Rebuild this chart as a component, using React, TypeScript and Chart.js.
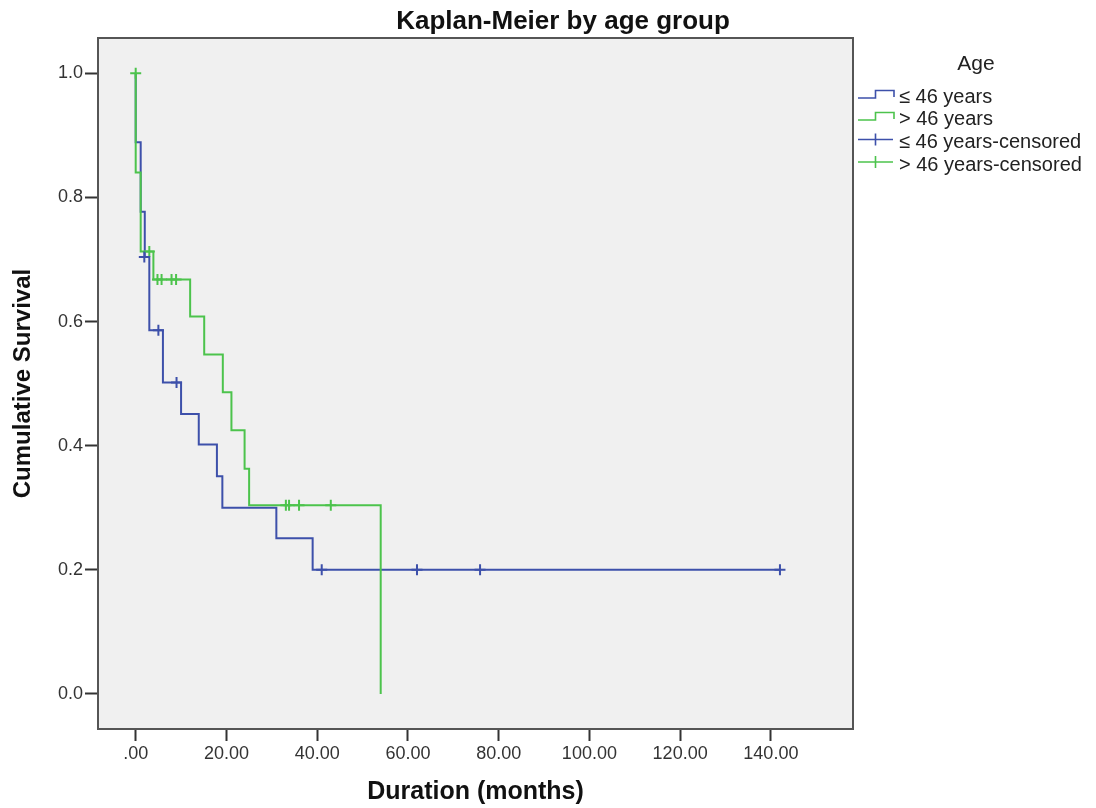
import React, { useEffect, useRef } from 'react';
import { Chart, registerables } from 'chart.js';

Chart.register(...registerables);

// ---- Text ----
const chartTitle = 'Kaplan-Meier by age group';
const xAxisTitle = 'Duration (months)';
const yAxisTitle = 'Cumulative Survival';
const legendTitle = 'Age';
const seriesLabels = ['≤ 46 years', '> 46 years', '≤ 46 years-censored', '> 46 years-censored'];

// ---- Ticks ----
const xTickValues = [0, 20, 40, 60, 80, 100, 120, 140];
const yTickValues = [0, 0.2, 0.4, 0.6, 0.8, 1.0];

// ---- ≤ 46 years: survival steps (time when survival becomes the value) ----
const youngTimes = [0, 0, 1.1, 2.0, 3.0, 6.0, 10.0, 13.9, 17.9, 19.1, 31.0, 39.0, 142.0];
const youngSurvival = [1.0, 0.889, 0.777, 0.704, 0.586, 0.502, 0.451, 0.402, 0.351, 0.300, 0.251, 0.200, 0.200];
const youngCensorTimes = [1.9, 5.0, 9.0, 41.0, 62.0, 75.9, 142.0];
const youngCensorSurvival = [0.704, 0.586, 0.502, 0.200, 0.200, 0.200, 0.200];

// ---- > 46 years ----
const oldTimes = [0, 0, 1.1, 3.9, 12.0, 15.1, 19.2, 21.1, 24.0, 25.0, 54.0];
const oldSurvival = [1.0, 0.840, 0.713, 0.668, 0.608, 0.547, 0.486, 0.425, 0.363, 0.304, 0.0];
const oldCensorTimes = [0, 3.0, 4.8, 5.7, 7.9, 8.9, 33.1, 33.8, 36.0, 43.0];
const oldCensorSurvival = [1.0, 0.713, 0.668, 0.668, 0.668, 0.668, 0.304, 0.304, 0.304, 0.304];

const BLUE = '#3d50aa';
const GREEN = '#4cc34c';
const seriesColors = [BLUE, GREEN, BLUE, GREEN];
const FONT = "'Liberation Sans', Arial, sans-serif";

const toPoints = (xs: number[], ys: number[]) => xs.map((x, i) => ({ x, y: ys[i] }));

const decorPlugin = {
  id: 'decor',
  beforeDraw(chart: any) {
    const { ctx, chartArea: a } = chart;
    ctx.save();
    ctx.fillStyle = '#ffffff';
    ctx.fillRect(0, 0, chart.width, chart.height);
    ctx.fillStyle = '#f0f0f0';
    ctx.fillRect(a.left, a.top, a.right - a.left, a.bottom - a.top);
    ctx.restore();
  },
  afterDraw(chart: any) {
    const { ctx, chartArea: a } = chart;
    ctx.save();
    // plot border
    ctx.strokeStyle = '#555555';
    ctx.lineWidth = 2;
    ctx.strokeRect(a.left, a.top, a.right - a.left, a.bottom - a.top);

    // title
    ctx.fillStyle = '#111111';
    ctx.font = `bold 26px ${FONT}`;
    ctx.textAlign = 'center';
    ctx.textBaseline = 'alphabetic';
    ctx.fillText(chartTitle, 563, 28.5);

    // legend
    ctx.font = `21px ${FONT}`;
    ctx.fillStyle = '#222222';
    ctx.fillText(legendTitle, 976, 70);

    const baselines = [103, 125, 148, 170.5];
    ctx.textAlign = 'left';
    ctx.font = `20px ${FONT}`;
    seriesLabels.forEach((label, i) => {
      const b = baselines[i];
      ctx.strokeStyle = seriesColors[i];
      ctx.lineWidth = 1.6;
      ctx.beginPath();
      if (i < 2) {
        const low = b - 5;
        const high = b - 12.5;
        ctx.moveTo(858, low);
        ctx.lineTo(875.5, low);
        ctx.lineTo(875.5, high);
        ctx.lineTo(894, high);
        ctx.lineTo(894, low - 1);
      } else {
        const c = b - 8.5;
        ctx.moveTo(858, c);
        ctx.lineTo(893, c);
        ctx.moveTo(875.5, c - 6);
        ctx.lineTo(875.5, c + 6);
      }
      ctx.stroke();
      ctx.fillStyle = '#222222';
      ctx.fillText(label, 899, b);
    });
    ctx.restore();
  },
};

export default function App() {
  const canvasRef = useRef<HTMLCanvasElement | null>(null);

  useEffect(() => {
    document.body.style.margin = '0';
    const canvas = canvasRef.current;
    if (!canvas) return;

    const chart = new Chart(canvas, {
      type: 'line',
      data: {
        datasets: [
          {
            label: seriesLabels[0],
            data: toPoints(youngTimes, youngSurvival),
            stepped: 'before',
            borderColor: BLUE,
            borderWidth: 2,
            pointRadius: 0,
            fill: false,
            order: 2,
          },
          {
            label: seriesLabels[1],
            data: toPoints(oldTimes, oldSurvival),
            stepped: 'before',
            borderColor: GREEN,
            borderWidth: 2,
            pointRadius: 0,
            fill: false,
            order: 1,
          },
          {
            label: seriesLabels[2],
            data: toPoints(youngCensorTimes, youngCensorSurvival),
            showLine: false,
            pointStyle: 'cross',
            pointRadius: 5.5,
            pointBorderWidth: 2,
            borderColor: BLUE,
            backgroundColor: BLUE,
            order: 0,
          },
          {
            label: seriesLabels[3],
            data: toPoints(oldCensorTimes, oldCensorSurvival),
            showLine: false,
            pointStyle: 'cross',
            pointRadius: 5.5,
            pointBorderWidth: 2,
            borderColor: GREEN,
            backgroundColor: GREEN,
            order: 0,
          },
        ] as any,
      },
      options: {
        animation: false,
        responsive: false,
        devicePixelRatio: 1,
        events: [],
        layout: { padding: { top: 38, right: 243, left: 0, bottom: 0 } },
        plugins: {
          legend: { display: false },
          title: { display: false },
          tooltip: { enabled: false },
        },
        scales: {
          x: {
            type: 'linear',
            min: -8.31,
            max: 158.1,
            afterBuildTicks: (scale: any) => {
              scale.ticks = xTickValues.map((v) => ({ value: v }));
            },
            afterFit: (scale: any) => {
              scale.height = 79;
            },
            ticks: {
              autoSkip: false,
              maxRotation: 0,
              padding: 2,
              color: '#333333',
              font: { family: FONT, size: 18 },
              callback: (v: any) => (Number(v) === 0 ? '.00' : Number(v).toFixed(2)),
            },
            grid: {
              display: true,
              drawOnChartArea: false,
              drawTicks: true,
              tickLength: 12,
              tickWidth: 2,
              tickColor: '#333333',
            },
            border: { display: false },
            title: {
              display: true,
              text: xAxisTitle,
              color: '#111111',
              font: { family: FONT, size: 25, weight: 'bold' },
              padding: { top: 0, bottom: 1 },
            },
          },
          y: {
            type: 'linear',
            min: -0.0564,
            max: 1.0569,
            afterBuildTicks: (scale: any) => {
              scale.ticks = yTickValues.map((v) => ({ value: v }));
            },
            afterFit: (scale: any) => {
              scale.width = 98;
            },
            ticks: {
              autoSkip: false,
              padding: 2,
              color: '#333333',
              font: { family: FONT, size: 18 },
              callback: (v: any) => Number(v).toFixed(1),
            },
            grid: {
              display: true,
              drawOnChartArea: false,
              drawTicks: true,
              tickLength: 13,
              tickWidth: 2,
              tickColor: '#333333',
            },
            border: { display: false },
            title: {
              display: true,
              text: yAxisTitle,
              color: '#111111',
              font: { family: FONT, size: 24, weight: 'bold' },
              padding: { top: 9, bottom: 0 },
            },
          },
        },
      } as any,
      plugins: [decorPlugin],
    });

    return () => chart.destroy();
  }, []);

  return (
    <canvas
      ref={canvasRef}
      width={1096}
      height={808}
      style={{ display: 'block', width: 1096, height: 808 }}
    />
  );
}
